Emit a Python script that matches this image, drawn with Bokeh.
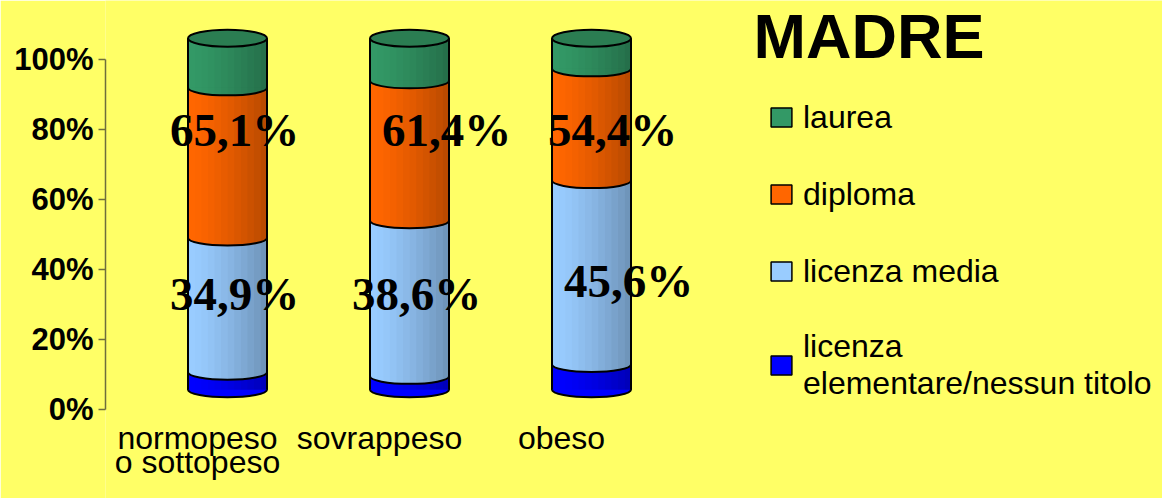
import numpy as np
from bokeh.plotting import figure
from bokeh.models import Range1d, FixedTicker, Legend, LegendItem, ColumnDataSource, PrintfTickFormatter
from bokeh.core.properties import value
from bokeh.embed import file_html
from bokeh.resources import INLINE

# ---------------- data ----------------
categories = ["normopeso\no sottopeso", "sovrappeso", "obeso"]
series_names = ["licenza\nelementare/nessun titolo", "licenza media", "diploma", "laurea"]
elementare = [5.0, 3.8, 7.2]
media = [38.2, 44.3, 52.3]
diploma = [42.7, 39.8, 31.8]
laurea = [14.1, 12.1, 8.7]
upper_labels = [65.1, 61.4, 54.4]
lower_labels = [34.9, 38.6, 45.6]
y_ticks = [0, 20, 40, 60, 80, 100]
title_text = "MADRE"

# ---------------- style ----------------
colors = ["#0000FF", "#99CCFF", "#FF6600", "#339966"]
top_color = "#2B7D52"
BG = "#FFFF66"
AXIS_COL = "#6E6E3C"

W, H = 1162, 498
LEFT = 105        # canvas x of the value axis
PX = 3.5          # px per % on the value axis
ZERO_FIG = 409    # canvas y of 0 %
BPX = 3.514       # px per % for the 3-D cylinders
BZERO_FIG = 389.2 # canvas y of cylinder base centre
XSTEP = 182
X0_FIG = 227

upper_dx = [7, 37, 21]
upper_y = [80.0, 80.0, 80.0]
lower_dx = [7, 7, 37]
lower_y = [32.9, 32.9, 36.6]

frame_w = W - LEFT
x_start = (LEFT - X0_FIG) / XSTEP
x_end = x_start + frame_w / XSTEP
y_start = (ZERO_FIG - H) / PX
y_end = ZERO_FIG / PX
by_start = (BZERO_FIG - H) / BPX
by_end = BZERO_FIG / BPX

p = figure(width=W, height=H, output_backend="svg", toolbar_location=None, title=None,
           x_range=Range1d(x_start, x_end), y_range=Range1d(y_start, y_end),
           x_axis_location=None, min_border_left=LEFT, min_border_right=0,
           min_border_top=0, min_border_bottom=0,
           background_fill_color=BG, border_fill_color=BG, outline_line_color=None)
p.extra_y_ranges = {"bars": Range1d(by_start, by_end)}
p.xgrid.visible = False
p.ygrid.visible = False

ax = p.yaxis[0]
ax.ticker = FixedTicker(ticks=y_ticks)
ax.formatter = PrintfTickFormatter(format="%d%%")
ax.bounds = (0, 100)
ax.axis_line_color = AXIS_COL
ax.axis_line_width = 1.5
ax.major_tick_line_color = AXIS_COL
ax.major_tick_line_width = 1.5
ax.major_tick_out = 7
ax.major_tick_in = 0
ax.minor_tick_out = 0
ax.minor_tick_in = 0
ax.major_label_standoff = 5
ax.major_label_text_font = "Liberation Sans"
ax.major_label_text_font_style = "bold"
ax.major_label_text_font_size = "31px"
ax.major_label_text_color = "black"

# ---------------- cylinders ----------------
x = list(range(len(categories)))
bar_w = 79 / XSTEP
series = [elementare, media, diploma, laurea]
bottoms = np.vstack([np.zeros(len(x)), np.cumsum(series, axis=0)[:-1]])
totals = np.sum(series, axis=0)

for k, vals in enumerate(series):
    b = bottoms[k]
    t = b + np.array(vals)
    src = ColumnDataSource(dict(x=x, bottom=b, top=t))
    p.ellipse(x="x", y="bottom", width=bar_w, height=15, height_units="screen", source=src,
              fill_color=colors[k], line_color="black", line_width=2, y_range_name="bars")
    p.vbar(x="x", bottom="bottom", top="top", width=bar_w, source=src,
           fill_color=colors[k], line_color=None, y_range_name="bars")

# shading strips (left light -> right dark)
n = 12
for j in range(n):
    frac = -0.5 + (j + 0.5) / n
    a = 0.27 * (j / (n - 1)) ** 1.4
    p.vbar(x=[xi + frac * bar_w for xi in x], bottom=0, top=totals, width=bar_w / n,
           fill_color="black", fill_alpha=a, line_color=None, y_range_name="bars")

p.segment(x0=[xi - bar_w / 2 for xi in x], y0=[0] * len(x), x1=[xi - bar_w / 2 for xi in x], y1=totals,
          line_color="black", line_width=2, y_range_name="bars")
p.segment(x0=[xi + bar_w / 2 for xi in x], y0=[0] * len(x), x1=[xi + bar_w / 2 for xi in x], y1=totals,
          line_color="black", line_width=2, y_range_name="bars")
p.ellipse(x=x, y=totals, width=bar_w, height=17, height_units="screen",
          fill_color=top_color, line_color="black", line_width=2, y_range_name="bars")

# ---------------- value labels ----------------
def fmt(v):
    return f"{v:.1f}".replace(".", ",") + "%"

for vals, dx, yy in ((upper_labels, upper_dx, upper_y), (lower_labels, lower_dx, lower_y)):
    src = ColumnDataSource(dict(x=x, y=yy, t=[fmt(v) for v in vals], dx=dx))
    p.text(x="x", y="y", text="t", x_offset="dx", source=src, text_align="center",
           text_baseline="middle", text_font=value("Liberation Serif"), text_font_style="bold",
           text_font_size="47px", text_color="black")

# ---------------- category labels ----------------
cx, cy, ct, coff = [], [], [], []
for i, c in enumerate(categories):
    for li, line in enumerate(c.split("\n")):
        cx.append(i)
        cy.append(0)
        ct.append(line)
        coff.append(28 + 24 * li)
csrc = ColumnDataSource(dict(x=cx, y=cy, t=ct, dy=coff))
p.text(x="x", y="y", text="t", source=csrc, x_offset=-30, y_offset="dy", text_align="center",
       text_baseline="middle", text_font=value("Liberation Sans"), text_font_size="32px",
       text_color="black")

# ---------------- title ----------------
p.text(x=[(753 - X0_FIG) / XSTEP], y=[(ZERO_FIG - 35) / PX], text=[title_text], text_align="left",
       text_baseline="middle", text_font=value("Liberation Sans"), text_font_style="bold",
       text_font_size="63px", text_color="black")

# ---------------- legend ----------------
dummies = []
for k in range(4):
    r = p.vbar(x=[np.nan], top=[np.nan], width=0.1, fill_color=colors[k], line_color="black",
               line_width=1.5)
    dummies.append(r)
items = [LegendItem(label=series_names[k], renderers=[dummies[k]]) for k in reversed(range(4))]
legend = Legend(items=items, location=(663, 96), orientation="vertical", padding=0, margin=0,
                spacing=37, glyph_width=26, glyph_height=24, label_standoff=9, label_height=40,
                label_text_font="Liberation Sans", label_text_font_size="32px",
                label_text_color="black", background_fill_alpha=0, border_line_color=None)
p.add_layout(legend)

open("out.html", "w").write(file_html(p, INLINE))
